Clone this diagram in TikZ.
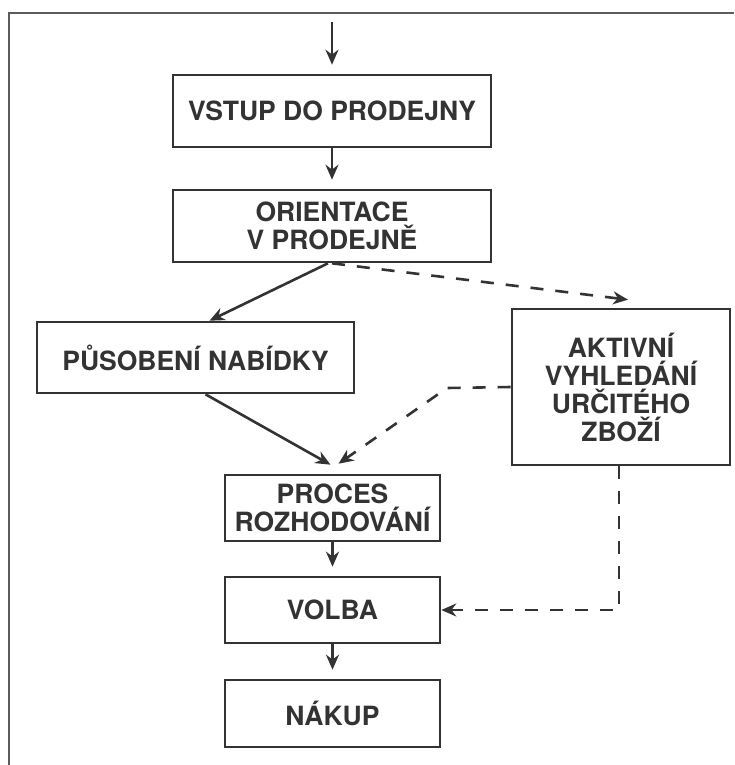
\documentclass[tikz,border=0pt]{standalone}
\usepackage{fontspec}
\setmainfont{TeX Gyre Heros}
\usepackage{xcolor}
\usetikzlibrary{arrows.meta, positioning}
\definecolor{ink}{HTML}{333333}

\tikzset{
  krok/.style={draw=ink, line width=2.6pt, text=ink, align=center,
    font=\fontsize{26.5}{28}\selectfont\bfseries, inner sep=0pt},
  sipka/.style={draw=ink, line width=2.6pt, -{Stealth[length=15pt,width=13pt]}},
  carka/.style={sipka, dash pattern=on 13pt off 12pt}
}

\begin{document}
\begin{tikzpicture}[x=1pt, y=-1pt]
  \useasboundingbox (0,0) rectangle (734,765);
  % frame
  \draw[ink!80, line width=1.3pt] (9,765) -- (9,13) -- (734,13);

  % boxes
  \node[krok, minimum width=318pt, minimum height=72pt] (vstup) at (332,111) {VSTUP DO PRODEJNY};
  \node[krok, minimum width=318pt, minimum height=72pt] (orient) at (332,226) {ORIENTACE\\V PRODEJNĚ};
  \node[krok, minimum width=317pt, minimum height=71pt] (pusob) at (195.5,357.5) {PŮSOBENÍ NABÍDKY};
  \node[krok, minimum width=218pt, minimum height=156pt] (aktiv) at (621,387) {AKTIVNÍ\\VYHLEDÁNÍ\\URČITÉHO\\ZBOŽÍ};
  \node[krok, minimum width=215pt, minimum height=66pt] (proces) at (332.5,508) {PROCES\\ROZHODOVÁNÍ};
  \node[krok, minimum width=215pt, minimum height=66pt] (volba) at (332.5,610) {VOLBA};
  \node[krok, minimum width=215pt, minimum height=67pt] (nakup) at (332.5,713.5) {NÁKUP};

  \coordinate (vstart) at (332,22);
  \coordinate (zlom) at (447,388);

  % solid arrows
  \draw[sipka, shorten >=9pt] (vstart) -- (vstup.north);
  \draw[sipka, shorten >=9pt] (vstup) -- (orient);
  \draw[sipka] ([xshift=-4pt]orient.south) -- ([xshift=14pt]pusob.north);
  \draw[sipka] ([xshift=10pt]pusob.south) -- ([xshift=-2pt,yshift=9pt]proces.north);
  \draw[sipka, shorten >=9pt] (proces) -- (volba);
  \draw[sipka, shorten >=9pt] (volba) -- (nakup);

  % dashed arrows
  \draw[carka] (orient.south) -- ([xshift=7pt,yshift=8pt]aktiv.north);
  \draw[carka] (aktiv.west) -- (zlom) -- ([xshift=6pt,yshift=10pt]proces.north);
  \draw[carka] ([xshift=-2pt]aktiv.south) |- (volba.east);
\end{tikzpicture}
\end{document}
